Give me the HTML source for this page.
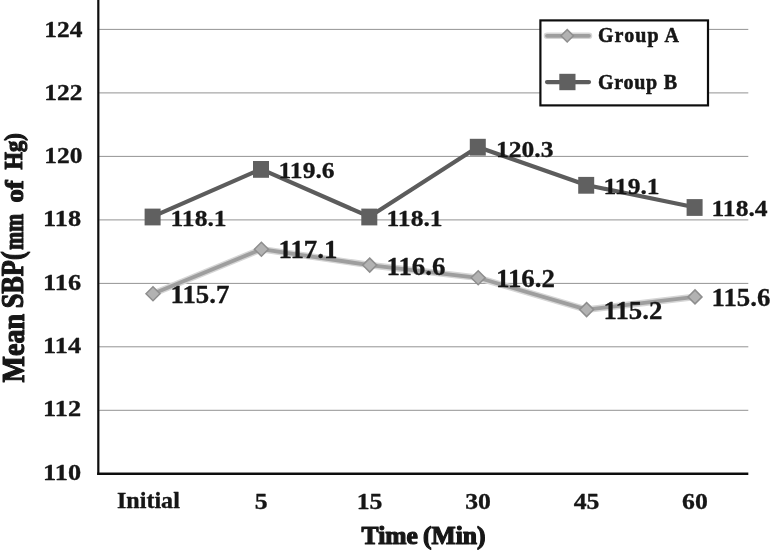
<!DOCTYPE html>
<html><head><meta charset="utf-8"><title>Mean SBP chart</title>
<style>
html,body{margin:0;padding:0;background:#fff;}
body{width:774px;height:551px;overflow:hidden;}
svg{display:block;}
text{font-family:"Liberation Serif",serif;font-weight:bold;fill:#141414;stroke:#141414;stroke-linejoin:round;}
.ax{font-size:22.9px;stroke-width:0.33px;}
.dl{font-size:24px;stroke-width:0.3px;}
.lg{font-size:20px;stroke-width:0.5px;}
.tt{font-size:25px;stroke-width:1.2px;}
</style></head>
<body>
<svg width="774" height="551" viewBox="0 0 774 551">
<defs><filter id="b" x="-5%" y="-5%" width="110%" height="110%"><feGaussianBlur stdDeviation="0.55"/></filter></defs>
<rect width="774" height="551" fill="#fff"/>
<g filter="url(#b)">
<!-- gridlines -->
<g stroke="#878787" stroke-width="0.9">
<line x1="98.3" y1="410.3" x2="748.3" y2="410.3"/>
<line x1="98.3" y1="346.8" x2="748.3" y2="346.8"/>
<line x1="98.3" y1="283.4" x2="748.3" y2="283.4"/>
<line x1="98.3" y1="219.9" x2="748.3" y2="219.9"/>
<line x1="98.3" y1="156.4" x2="748.3" y2="156.4"/>
<line x1="98.3" y1="92.9" x2="748.3" y2="92.9"/>
<line x1="98.3" y1="29.4" x2="748.3" y2="29.4"/>
</g>
<!-- axes -->
<line x1="98.3" y1="0" x2="98.3" y2="474.90000000000003" stroke="#111" stroke-width="2.2"/>
<line x1="97.2" y1="473.8" x2="748.3" y2="473.8" stroke="#111" stroke-width="2.4"/>
<!-- y axis labels -->
<text class="ax" transform="translate(81.1,479.5) scale(1.14885,1)" text-anchor="end">110</text>
<text class="ax" transform="translate(81.1,416.2) scale(1.14885,1)" text-anchor="end">112</text>
<text class="ax" transform="translate(81.1,352.9) scale(1.14885,1)" text-anchor="end">114</text>
<text class="ax" transform="translate(81.1,289.7) scale(1.14885,1)" text-anchor="end">116</text>
<text class="ax" transform="translate(81.1,226.4) scale(1.14885,1)" text-anchor="end">118</text>
<text class="ax" transform="translate(82.4,163.2) scale(1.11,1)" text-anchor="end">120</text>
<text class="ax" transform="translate(82.4,99.9) scale(1.11,1)" text-anchor="end">122</text>
<text class="ax" transform="translate(82.4,36.6) scale(1.11,1)" text-anchor="end">124</text>
<!-- x axis labels -->
<text class="ax" transform="translate(148.4,508.4) scale(1.02,1)" text-anchor="middle" style="font-size:23.6px">Initial</text>
<text class="ax" transform="translate(261.3,508.5) scale(1.09,1)" text-anchor="middle" style="font-size:23.6px">5</text>
<text class="ax" transform="translate(369.6,508.5) scale(1.09,1)" text-anchor="middle" style="font-size:23.6px">15</text>
<text class="ax" transform="translate(478.1,508.5) scale(1.09,1)" text-anchor="middle" style="font-size:23.6px">30</text>
<text class="ax" transform="translate(586.5,508.5) scale(1.09,1)" text-anchor="middle" style="font-size:23.6px">45</text>
<text class="ax" transform="translate(694.9,508.5) scale(1.09,1)" text-anchor="middle" style="font-size:23.6px">60</text>
<!-- Group A series -->
<polyline fill="none" stroke="#d6d6d6" stroke-width="6.6" stroke-linejoin="round" points="153.0,293.7 261.4,249.2 369.7,265.1 478.2,277.8 586.6,309.6 695.0,296.9"/>
<polyline fill="none" stroke="#9e9e9e" stroke-width="3.8" stroke-linejoin="round" points="153.0,293.7 261.4,249.2 369.7,265.1 478.2,277.8 586.6,309.6 695.0,296.9"/>
<g fill="#b2b2b2" stroke="#8e8e8e" stroke-width="1.5">
<path d="M153.0 286.7l7 7-7 7-7-7z"/>
<path d="M261.4 242.2l7 7-7 7-7-7z"/>
<path d="M369.7 258.1l7 7-7 7-7-7z"/>
<path d="M478.2 270.8l7 7-7 7-7-7z"/>
<path d="M586.6 302.6l7 7-7 7-7-7z"/>
<path d="M695.0 289.9l7 7-7 7-7-7z"/>
</g>
<!-- Group B series -->
<polyline fill="none" stroke="#5c5c5c" stroke-width="4.2" stroke-linejoin="round" points="152.6,216.7 261.0,169.1 369.3,216.7 477.8,146.9 586.2,185.0 694.6,207.2"/>
<g fill="#616161">
<rect x="144.6" y="208.6" width="16" height="16.8"/>
<rect x="253.0" y="161.0" width="16" height="16.8"/>
<rect x="361.3" y="208.6" width="16" height="16.8"/>
<rect x="469.8" y="138.8" width="16" height="16.8"/>
<rect x="578.2" y="176.9" width="16" height="16.8"/>
<rect x="686.6" y="199.1" width="16" height="16.8"/>
</g>
<!-- data labels -->
<text class="dl" transform="translate(170.5,225.9) scale(1.065,1)">118.1</text>
<text class="dl" transform="translate(278.5,178.3) scale(1.065,1)">119.6</text>
<text class="dl" transform="translate(386.5,225.9) scale(1.065,1)">118.1</text>
<text class="dl" transform="translate(496.0,157.1) scale(1.065,1)">120.3</text>
<text class="dl" transform="translate(603.5,194.2) scale(1.065,1)">119.1</text>
<text class="dl" transform="translate(711.5,216.4) scale(1.065,1)">118.4</text>
<text class="dl" transform="translate(170.5,303.2) scale(1.075,1)" style="font-size:25px">115.7</text>
<text class="dl" transform="translate(278.5,258.1) scale(1.075,1)" style="font-size:25px">117.1</text>
<text class="dl" transform="translate(386.5,274.6) scale(1.075,1)" style="font-size:25px">116.6</text>
<text class="dl" transform="translate(496.0,287.0) scale(1.075,1)" style="font-size:25px">116.2</text>
<text class="dl" transform="translate(603.5,319.1) scale(1.075,1)" style="font-size:25px">115.2</text>
<text class="dl" transform="translate(711.5,306.4) scale(1.075,1)" style="font-size:25px">115.6</text>
<!-- legend -->
<rect x="540.4" y="20.4" width="167.6" height="85" fill="#fff" stroke="#111" stroke-width="2.2"/>
<line x1="547" y1="35.8" x2="589" y2="35.8" stroke="#d6d6d6" stroke-width="6.6" stroke-linecap="round"/>
<line x1="547" y1="35.8" x2="589" y2="35.8" stroke="#9e9e9e" stroke-width="3.8" stroke-linecap="round"/>
<path d="M567.2 29.6l6.2 6.2-6.2 6.2-6.2-6.2z" fill="#b2b2b2" stroke="#8e8e8e" stroke-width="1.5"/>
<line x1="547" y1="82.1" x2="589" y2="82.1" stroke="#5c5c5c" stroke-width="4.2" stroke-linecap="round"/>
<rect x="559.3" y="73.8" width="16.2" height="16.4" fill="#616161"/>
<text class="lg" transform="translate(598.0,42.0) scale(1,1)" textLength="81" lengthAdjust="spacing">Group A</text>
<text class="lg" transform="translate(598.0,89.0) scale(1,1)" textLength="79" lengthAdjust="spacing">Group B</text>
<!-- axis titles -->
<text class="tt" y="543.5"><tspan x="361.6" textLength="56.2" lengthAdjust="spacingAndGlyphs">Time</tspan> <tspan x="423.0" textLength="62.6" lengthAdjust="spacingAndGlyphs">(Min)</tspan></text>
<text class="tt" transform="rotate(-90)"><tspan x="-382.4" y="23.5" style="font-size:32.5px" textLength="68.6" lengthAdjust="spacingAndGlyphs">Mean</tspan> <tspan x="-308.3" y="23.3" style="font-size:31.5px" textLength="57.0" lengthAdjust="spacingAndGlyphs">SBP(</tspan> <tspan x="-249.7" y="22.6" style="font-size:26.5px" textLength="35.8" lengthAdjust="spacingAndGlyphs">mm</tspan> <tspan x="-202.5" y="22.5" style="font-size:25.8px" textLength="22.2" lengthAdjust="spacingAndGlyphs">of</tspan> <tspan x="-169.5" y="22.4" style="font-size:25.0px" textLength="36.2" lengthAdjust="spacingAndGlyphs">Hg)</tspan></text>
</g>
</svg>
</body></html>
